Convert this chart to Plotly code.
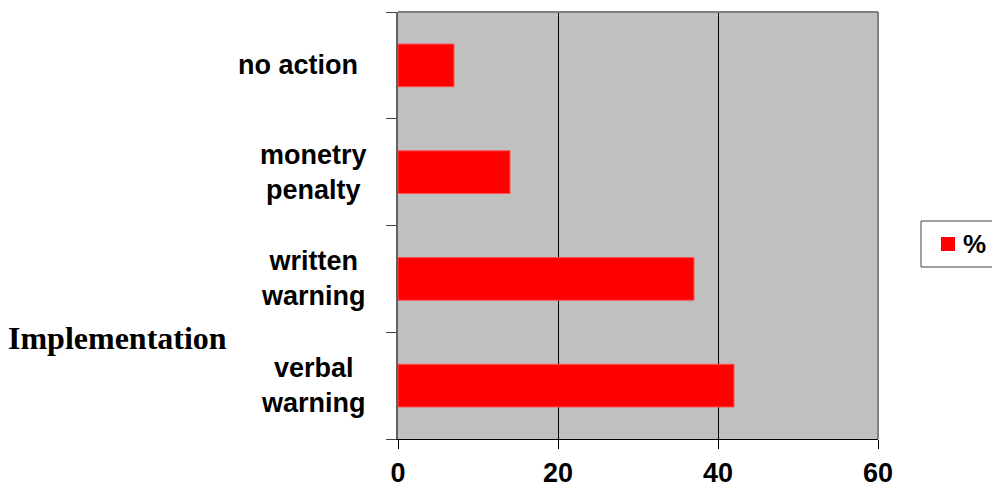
import plotly.graph_objects as go

# Data (bottom to top as drawn)
categories = ["verbal warning", "written warning", "monetry penalty", "no action"]
label_text = ["verbal<br>warning", "written<br>warning", "monetry<br>penalty", "no action&nbsp;&nbsp;&nbsp;&nbsp;"]
values = [42, 37, 14, 7]
series_name = "%"
x_ticks = [0, 20, 40, 60]
axis_title = "Implementation"

W, H = 992, 488
L, R, T, B = 398, 114, 12, 49
pw, ph = W - L - R, H - T - B


def px_x(x):
    return (x - L) / pw


def px_y(y):
    return (T + ph - y) / ph


fig = go.Figure()
fig.add_trace(go.Bar(
    y=categories, x=values, orientation="h", name=series_name,
    marker=dict(color="#FF0000", line=dict(color="#ff5050", width=1)),
    width=0.4, showlegend=False, hoverinfo="skip",
))

fig.update_layout(
    width=W, height=H,
    margin=dict(l=L, r=R, t=T, b=B, pad=0, autoexpand=False),
    paper_bgcolor="white", plot_bgcolor="#C0C0C0",
    font=dict(family="Liberation Sans, Arial, sans-serif", size=28, color="black"),
    showlegend=False,
    xaxis=dict(
        range=[0, 60], tickvals=x_ticks, ticktext=[f"<b>{v}</b>" for v in x_ticks],
        showgrid=True, gridcolor="black", gridwidth=1, zeroline=False,
        showline=True, linecolor="black", linewidth=1,
        ticks="outside", ticklen=9, tickcolor="black", tickwidth=1,
        tickfont=dict(size=27), automargin=False, ticklabelstandoff=1,
    ),
    yaxis=dict(
        categoryorder="array", categoryarray=categories,
        showticklabels=False, ticks="outside", tickson="boundaries",
        ticklen=10, tickcolor="#404040", tickwidth=1,
        showline=True, linecolor="#606060", linewidth=2, showgrid=False,
        zeroline=False, automargin=False,
    ),
    bargap=0.6,
)

# top & right gray border
fig.add_shape(type="line", xref="paper", yref="paper", x0=0, x1=1, y0=1, y1=1,
              line=dict(color="#808080", width=2))
fig.add_shape(type="line", xref="paper", yref="paper", x0=1, x1=1, y0=0, y1=1,
              line=dict(color="#808080", width=2))

for c, t in zip(categories, label_text):
    fig.add_annotation(x=px_x(313), xref="paper", y=c, yref="y",
                       text=f"<b>{t}</b>", showarrow=False, xanchor="center",
                       align="center", font=dict(size=27))

fig.add_annotation(x=px_x(117), xref="paper", y=px_y(338), yref="paper",
                   text=f"<b>{axis_title}</b>", showarrow=False, xanchor="center",
                   yanchor="middle",
                   font=dict(family="Liberation Serif, Times New Roman, serif", size=32))

# legend box (clipped at right edge as in the reference)
fig.add_shape(type="rect", xref="paper", yref="paper",
              x0=px_x(921), x1=px_x(1000), y0=px_y(267), y1=px_y(221),
              line=dict(color="#404040", width=1), fillcolor="white")
fig.add_shape(type="rect", xref="paper", yref="paper",
              x0=px_x(941), x1=px_x(955), y0=px_y(251), y1=px_y(237),
              line=dict(width=0), fillcolor="#FF0000")
fig.add_annotation(x=px_x(961), xref="paper", y=px_y(244), yref="paper",
                   text=f"<b>{series_name}</b>", showarrow=False, xanchor="left",
                   yanchor="middle", font=dict(size=26))

fig.write_html("out.html", config={"displayModeBar": False},
               post_script="document.body.style.margin='0';document.body.style.overflow='hidden';")
